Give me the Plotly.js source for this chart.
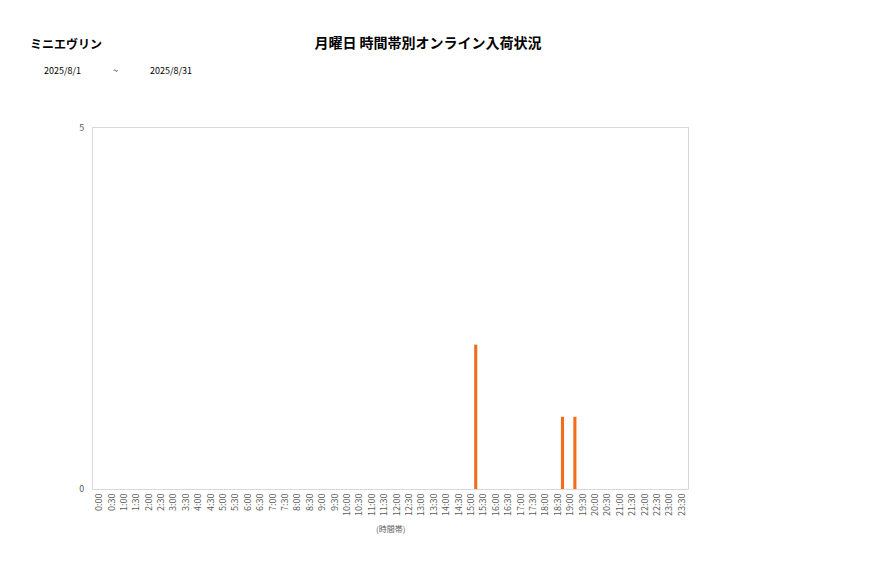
<!DOCTYPE html>
<html>
<head>
<meta charset="utf-8">
<script src="https://cdn.plot.ly/plotly-3.0.1.min.js"></script>
<style>
html,body{margin:0;padding:0;background:#fff;}
#chart{width:877px;height:578px;}
</style>
</head>
<body>
<div id="chart"></div>
<script>
// Data
const timeSlots = ["0:00","0:30","1:00","1:30","2:00","2:30","3:00","3:30","4:00","4:30","5:00","5:30",
  "6:00","6:30","7:00","7:30","8:00","8:30","9:00","9:30","10:00","10:30","11:00","11:30",
  "12:00","12:30","13:00","13:30","14:00","14:30","15:00","15:30","16:00","16:30","17:00","17:30",
  "18:00","18:30","19:00","19:30","20:00","20:30","21:00","21:30","22:00","22:30","23:00","23:30"];
const arrivals = [0,0,0,0,0,0,0,0,0,0,0,0,
  0,0,0,0,0,0,0,0,0,0,0,0,
  0,0,0,0,0,0,2,0,0,0,0,0,
  0,1,1,0,0,0,0,0,0,0,0,0];
const yTicks = [0,5];
const storeName = "ミニエヴリン";
const chartTitle = "月曜日 時間帯別オンライン入荷状況";
const dateFrom = "2025/8/1";
const dateTo = "2025/8/31";
const xAxisTitle = "(時間帯)";

const W = 877, H = 578;
const L = 93, R = 688, T = 128, B = 489;
const px = v => (v - L) / (R - L);
const py = v => (B - v) / (B - T);

const trace = {
  type: 'bar',
  x: timeSlots,
  y: arrivals,
  marker: {color: '#F36C1B', line: {width: 0}},
  width: 0.25,
  offset: 0.25,
  hoverinfo: 'x+y'
};

const fontJP = '"Noto Sans CJK JP", "Noto Sans", sans-serif';

const layout = {
  width: W, height: H,
  margin: {l: L, r: W - R, t: T, b: H - B, pad: 0},
  paper_bgcolor: '#fff',
  plot_bgcolor: '#fff',
  showlegend: false,
  font: {family: fontJP, color: '#595959'},
  title: {
    text: chartTitle,
    font: {family: fontJP, size: 14, color: '#000', weight: 'bold'},
    x: 428 / W, xanchor: 'center', xref: 'container',
    y: 1 - 43 / H, yanchor: 'middle', yref: 'container'
  },
  xaxis: {
    type: 'category',
    categoryorder: 'array',
    categoryarray: timeSlots,
    tickvals: timeSlots,
    ticktext: timeSlots,
    tickangle: -90,
    tickfont: {family: fontJP, size: 9, color: '#595959'},
    showline: true, linecolor: '#d9d9d9', linewidth: 1, mirror: true,
    showgrid: false, zeroline: false, ticks: '',
    range: [-0.5, timeSlots.length - 0.5],
    fixedrange: true
  },
  yaxis: {
    range: [0, 5],
    tickvals: yTicks,
    ticktext: yTicks.map(String),
    tickfont: {family: fontJP, size: 9, color: '#595959'},
    showline: true, linecolor: '#d9d9d9', linewidth: 1, mirror: true,
    showgrid: false, zeroline: false, ticks: '',
    ticklabelstandoff: 6,
    fixedrange: true
  },
  annotations: [
    {text: storeName, xref: 'paper', yref: 'paper', x: px(28), y: py(43),
     xanchor: 'left', yanchor: 'middle', showarrow: false,
     font: {family: fontJP, size: 12, color: '#000', weight: 'bold'}},
    {text: dateFrom, xref: 'paper', yref: 'paper', x: px(42), y: py(70),
     xanchor: 'left', yanchor: 'middle', showarrow: false,
     font: {family: fontJP, size: 9, color: '#000'}},
    {text: '~', xref: 'paper', yref: 'paper', x: px(115), y: py(70),
     xanchor: 'center', yanchor: 'middle', showarrow: false,
     font: {family: fontJP, size: 9, color: '#000'}},
    {text: dateTo, xref: 'paper', yref: 'paper', x: px(148), y: py(70),
     xanchor: 'left', yanchor: 'middle', showarrow: false,
     font: {family: fontJP, size: 9, color: '#000'}},
    {text: xAxisTitle, xref: 'paper', yref: 'paper', x: px(390), y: py(528),
     xanchor: 'center', yanchor: 'middle', showarrow: false,
     font: {family: fontJP, size: 8, color: '#595959'}}
  ]
};

Plotly.newPlot('chart', [trace], layout, {displayModeBar: false, staticPlot: true});
</script>
</body>
</html>
